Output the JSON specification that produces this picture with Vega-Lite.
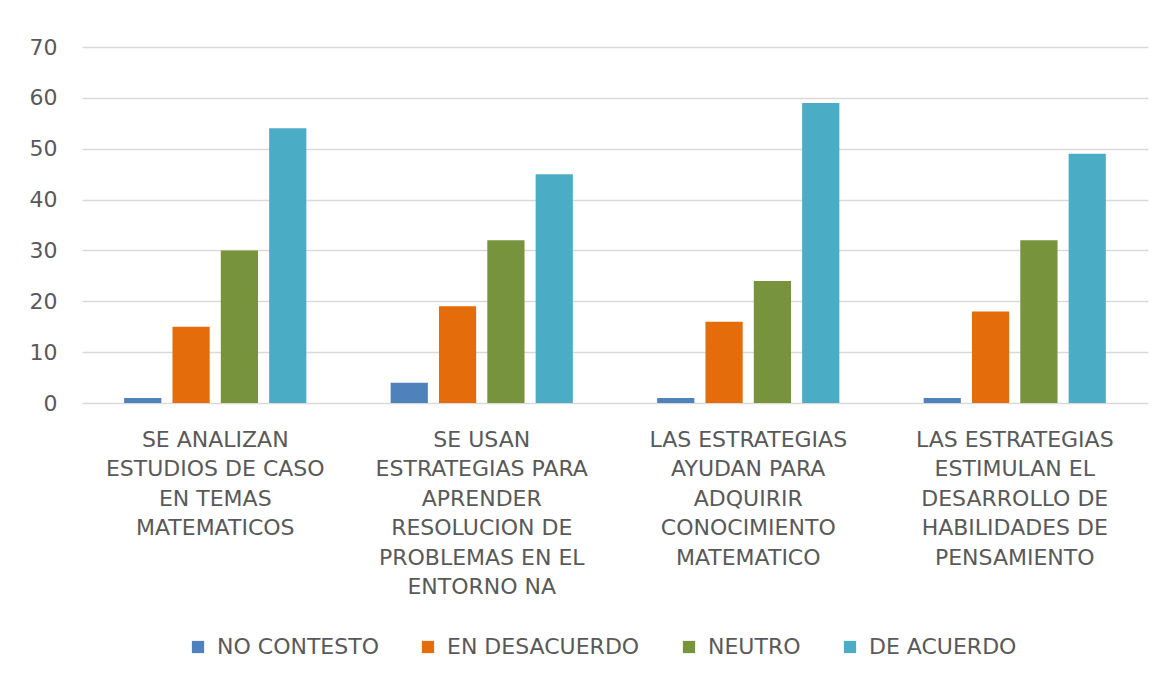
{
  "$schema": "https://vega.github.io/schema/vega-lite/v6.json",
  "autosize": {"type": "none"},
  "padding": {"left": 82, "top": 47, "right": 23, "bottom": 287},
  "width": 1066,
  "height": 356,
  "background": "white",
  "config": {
    "view": {"stroke": null},
    "font": "DejaVu Sans"
  },
  "data": {
    "values": [
      {"pregunta": "SE ANALIZAN ESTUDIOS DE CASO EN TEMAS MATEMATICOS", "respuesta": "NO CONTESTO", "valor": 1},
      {"pregunta": "SE ANALIZAN ESTUDIOS DE CASO EN TEMAS MATEMATICOS", "respuesta": "EN DESACUERDO", "valor": 15},
      {"pregunta": "SE ANALIZAN ESTUDIOS DE CASO EN TEMAS MATEMATICOS", "respuesta": "NEUTRO", "valor": 30},
      {"pregunta": "SE ANALIZAN ESTUDIOS DE CASO EN TEMAS MATEMATICOS", "respuesta": "DE ACUERDO", "valor": 54},
      {"pregunta": "SE USAN ESTRATEGIAS PARA APRENDER RESOLUCION DE PROBLEMAS EN EL ENTORNO NA", "respuesta": "NO CONTESTO", "valor": 4},
      {"pregunta": "SE USAN ESTRATEGIAS PARA APRENDER RESOLUCION DE PROBLEMAS EN EL ENTORNO NA", "respuesta": "EN DESACUERDO", "valor": 19},
      {"pregunta": "SE USAN ESTRATEGIAS PARA APRENDER RESOLUCION DE PROBLEMAS EN EL ENTORNO NA", "respuesta": "NEUTRO", "valor": 32},
      {"pregunta": "SE USAN ESTRATEGIAS PARA APRENDER RESOLUCION DE PROBLEMAS EN EL ENTORNO NA", "respuesta": "DE ACUERDO", "valor": 45},
      {"pregunta": "LAS ESTRATEGIAS AYUDAN PARA ADQUIRIR CONOCIMIENTO MATEMATICO", "respuesta": "NO CONTESTO", "valor": 1},
      {"pregunta": "LAS ESTRATEGIAS AYUDAN PARA ADQUIRIR CONOCIMIENTO MATEMATICO", "respuesta": "EN DESACUERDO", "valor": 16},
      {"pregunta": "LAS ESTRATEGIAS AYUDAN PARA ADQUIRIR CONOCIMIENTO MATEMATICO", "respuesta": "NEUTRO", "valor": 24},
      {"pregunta": "LAS ESTRATEGIAS AYUDAN PARA ADQUIRIR CONOCIMIENTO MATEMATICO", "respuesta": "DE ACUERDO", "valor": 59},
      {"pregunta": "LAS ESTRATEGIAS ESTIMULAN EL DESARROLLO DE HABILIDADES DE PENSAMIENTO", "respuesta": "NO CONTESTO", "valor": 1},
      {"pregunta": "LAS ESTRATEGIAS ESTIMULAN EL DESARROLLO DE HABILIDADES DE PENSAMIENTO", "respuesta": "EN DESACUERDO", "valor": 18},
      {"pregunta": "LAS ESTRATEGIAS ESTIMULAN EL DESARROLLO DE HABILIDADES DE PENSAMIENTO", "respuesta": "NEUTRO", "valor": 32},
      {"pregunta": "LAS ESTRATEGIAS ESTIMULAN EL DESARROLLO DE HABILIDADES DE PENSAMIENTO", "respuesta": "DE ACUERDO", "valor": 49}
    ]
  },
  "mark": {"type": "bar"},
  "encoding": {
    "x": {
      "field": "pregunta",
      "type": "nominal",
      "sort": null,
      "title": null,
      "scale": {"paddingInner": 0.28, "paddingOuter": 0.14},
      "axis": {
        "labelAngle": 0,
        "labelFontSize": 22,
        "labelColor": "#595959",
        "labelPadding": 26,
        "labelBaseline": "top",
        "labelLineHeight": 29.5,
        "labelLimit": 0,
        "ticks": false,
        "domain": false,
        "labelExpr": "datum.value == 'SE ANALIZAN ESTUDIOS DE CASO EN TEMAS MATEMATICOS' ? ['SE ANALIZAN','ESTUDIOS DE CASO','EN TEMAS','MATEMATICOS'] : datum.value == 'SE USAN ESTRATEGIAS PARA APRENDER RESOLUCION DE PROBLEMAS EN EL ENTORNO NA' ? ['SE USAN','ESTRATEGIAS PARA','APRENDER','RESOLUCION DE','PROBLEMAS EN EL','ENTORNO NA'] : datum.value == 'LAS ESTRATEGIAS AYUDAN PARA ADQUIRIR CONOCIMIENTO MATEMATICO' ? ['LAS ESTRATEGIAS','AYUDAN PARA','ADQUIRIR','CONOCIMIENTO','MATEMATICO'] : ['LAS ESTRATEGIAS','ESTIMULAN EL','DESARROLLO DE','HABILIDADES DE','PENSAMIENTO']"
      }
    },
    "xOffset": {
      "field": "respuesta",
      "type": "nominal",
      "sort": ["NO CONTESTO", "EN DESACUERDO", "NEUTRO", "DE ACUERDO"],
      "scale": {"paddingInner": 0.23, "paddingOuter": 0.1}
    },
    "y": {
      "field": "valor",
      "type": "quantitative",
      "title": null,
      "scale": {"domain": [0, 70]},
      "axis": {
        "values": [0, 10, 20, 30, 40, 50, 60, 70],
        "labelFontSize": 22,
        "labelColor": "#595959",
        "labelPadding": 25,
        "ticks": false,
        "domain": false,
        "gridColor": "#d9d9d9",
        "gridWidth": 1.5
      }
    },
    "color": {
      "field": "respuesta",
      "type": "nominal",
      "sort": ["NO CONTESTO", "EN DESACUERDO", "NEUTRO", "DE ACUERDO"],
      "scale": {
        "domain": ["NO CONTESTO", "EN DESACUERDO", "NEUTRO", "DE ACUERDO"],
        "range": ["#4f81bd", "#e46c0a", "#77933c", "#4bacc6"]
      },
      "legend": {
        "title": null,
        "orient": "none",
        "direction": "horizontal",
        "legendX": 105,
        "legendY": 589,
        "symbolType": "square",
        "symbolSize": 150,
        "symbolStrokeWidth": 0,
        "labelFontSize": 22,
        "labelColor": "#595959",
        "labelOffset": 8,
        "columnPadding": 38,
        "labelLimit": 0
      }
    }
  }
}
